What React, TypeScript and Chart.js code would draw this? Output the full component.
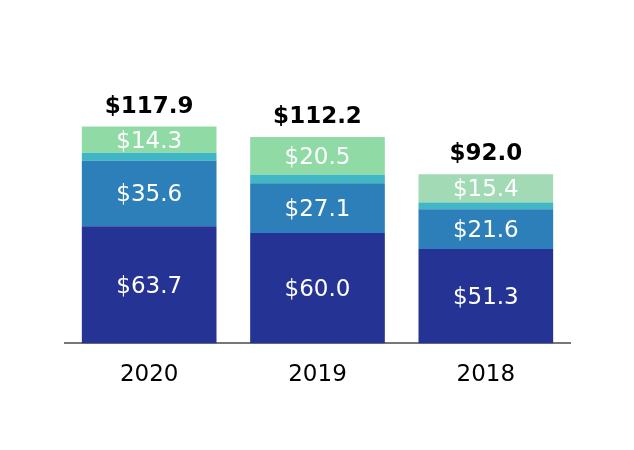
import React, { useEffect, useRef } from "react";
import { Chart, registerables } from "chart.js";
Chart.register(...registerables);

const categories = ["2020", "2019", "2018"];
const navyValues = [63.7, 60.0, 51.3];
const blueValues = [35.6, 27.1, 21.6];
const tealValues = [4.3, 4.6, 3.7];
const greenValues = [14.3, 20.5, 15.4];
const totals = [117.9, 112.2, 92.0];

const FONT = "'DejaVu Sans', sans-serif";

const labelPlugin = {
  id: "labels",
  afterDatasetsDraw(chart: any) {
    const ctx = chart.ctx;
    ctx.save();
    ctx.textAlign = "center";
    ctx.textBaseline = "middle";
    chart.data.datasets.forEach((ds: any, di: number) => {
      if (!ds.showLabel) return;
      const meta = chart.getDatasetMeta(di);
      meta.data.forEach((bar: any, i: number) => {
        const v = ds.data[i];
        const y = (bar.y + bar.base) / 2 + 2;
        ctx.fillStyle = "#ffffff";
        ctx.font = `23px ${FONT}`;
        ctx.fillText("$" + v.toFixed(1), bar.x, y);
      });
    });
    const lastMeta = chart.getDatasetMeta(chart.data.datasets.length - 1);
    lastMeta.data.forEach((bar: any, i: number) => {
      ctx.fillStyle = "#000000";
      ctx.font = `bold 23px ${FONT}`;
      ctx.textBaseline = "alphabetic";
      ctx.fillText("$" + totals[i].toFixed(1), bar.x, bar.y - 14);
    });
    ctx.restore();
  },
};

export default function App() {
  const ref = useRef<HTMLCanvasElement | null>(null);
  useEffect(() => {
    document.body.style.margin = "0";
    const chart = new Chart(ref.current!, {
      type: "bar",
      data: {
        labels: categories,
        datasets: [
          { data: navyValues, backgroundColor: "#253494", showLabel: true } as any,
          { data: blueValues, backgroundColor: "#2c7fb8", showLabel: true } as any,
          { data: tealValues, backgroundColor: "#41b6c4", showLabel: false } as any,
          {
            data: greenValues,
            backgroundColor: ["#90dba5", "#90dba5", "#a1dab4"],
            showLabel: true,
          } as any,
        ],
      },
      options: {
        animation: false,
        responsive: false,
        layout: { padding: { left: 65, right: 64, top: 20, bottom: 43 } },
        plugins: { legend: { display: false }, tooltip: { enabled: false } },
        scales: {
          x: {
            stacked: true,
            grid: { display: false, drawTicks: false, tickLength: 0 },
            border: { display: true, color: "#777777", width: 2 },
            ticks: { color: "#000000", font: { family: FONT, size: 23 }, padding: 18 },
          },
          y: {
            stacked: true,
            display: false,
            min: 0,
            max: 175.8,
          },
        },
        datasets: { bar: { barPercentage: 0.8, categoryPercentage: 1.0 } },
      } as any,
      plugins: [labelPlugin],
    });
    return () => chart.destroy();
  }, []);
  return <canvas ref={ref} width={634} height={450} style={{ display: "block" }} />;
}
